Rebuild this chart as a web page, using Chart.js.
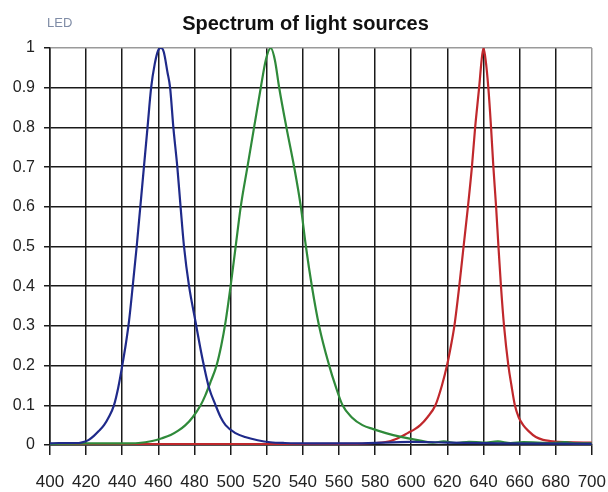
<!DOCTYPE html>
<html>
<head>
<meta charset="utf-8">
<script src="https://cdn.jsdelivr.net/npm/chart.js@4"></script>
<style>
  html, body { margin: 0; padding: 0; background: #fff; }
  #box { width: 608px; height: 492px; }
</style>
</head>
<body>
<div id="box"><canvas id="spectrum"></canvas></div>
<script>
// valori (lunghezza d'onda in nm, intensita relativa)
const blueNm  = [400, 405, 411, 416, 419, 421.5, 424.3, 427, 429.9, 432.5, 435.4, 437.8, 440, 442, 443.7, 445.8, 448, 450, 452, 454, 456, 458, 460, 461.5, 463, 465, 466.5, 468.3, 470.5, 472.3, 474.2, 477, 480.6, 483, 485.2, 488, 491.7, 494.5, 497.2, 502.7, 508, 515, 522, 530, 545, 570, 600, 620, 650, 700];
const blueRel = [0.004, 0.005, 0.005, 0.005, 0.008, 0.013, 0.023, 0.035, 0.05, 0.07, 0.1, 0.145, 0.2, 0.255, 0.31, 0.4, 0.5, 0.6, 0.7, 0.8, 0.9, 0.96, 0.995, 1.0, 0.99, 0.94, 0.9, 0.8, 0.7, 0.6, 0.5, 0.4, 0.31, 0.25, 0.2, 0.145, 0.1, 0.07, 0.05, 0.03, 0.02, 0.012, 0.007, 0.005, 0.004, 0.004, 0.008, 0.006, 0.004, 0.003];

const greenNm  = [400, 420, 440, 449, 456.6, 462, 466.8, 471, 475, 479, 483.4, 486, 489, 492.2, 494.8, 497.2, 500, 502.8, 505.6, 509.3, 513, 516.7, 519.5, 522.2, 524.5, 526.9, 530.9, 535.2, 538.9, 541.7, 545, 549, 554.6, 558, 562, 567, 573, 579, 586, 595, 605, 612, 618, 625, 632, 640, 648, 655, 662, 670, 678, 685, 692, 700];
const greenRel = [0.003, 0.004, 0.004, 0.005, 0.01, 0.017, 0.025, 0.036, 0.05, 0.07, 0.1, 0.125, 0.16, 0.2, 0.25, 0.31, 0.4, 0.5, 0.6, 0.7, 0.8, 0.9, 0.97, 1.0, 0.97, 0.9, 0.8, 0.7, 0.6, 0.5, 0.4, 0.3, 0.2, 0.15, 0.1, 0.07, 0.05, 0.04, 0.03, 0.02, 0.011, 0.006, 0.009, 0.005, 0.008, 0.006, 0.009, 0.005, 0.007, 0.006, 0.005, 0.007, 0.004, 0.004];

const redNm  = [400, 460, 520, 570, 580, 588.6, 594, 598, 602, 605, 609, 613.4, 617, 619.8, 622, 623.9, 626.6, 629, 631.4, 633.6, 635.4, 637.6, 639, 640, 641.2, 642.7, 644.2, 645.5, 647, 648.3, 649.7, 651.4, 653.8, 655.5, 657.4, 659.5, 662, 665, 669, 673, 677, 685, 700];
const redRel = [0.002, 0.002, 0.002, 0.003, 0.005, 0.01, 0.02, 0.03, 0.04, 0.05, 0.07, 0.1, 0.15, 0.2, 0.25, 0.3, 0.4, 0.5, 0.6, 0.7, 0.8, 0.9, 0.97, 1.0, 0.97, 0.9, 0.8, 0.7, 0.6, 0.5, 0.4, 0.3, 0.2, 0.15, 0.1, 0.07, 0.05, 0.035, 0.02, 0.013, 0.01, 0.007, 0.006];

const xRange = [400, 700];
const xStep = 20;
const yRange = [0, 1];
const yStep = 0.1;

const titolo = 'Spectrum of light sources';
const etichetta = 'LED';

const sans = '"Liberation Sans", Arial, sans-serif';
const gridCol = '#1a1a1a';

function punti(nm, rel) {
  return nm.map((x, i) => ({ x: x, y: rel[i] }));
}

function serie(nm, rel, colore) {
  return {
    data: punti(nm, rel),
    borderColor: colore,
    borderWidth: 2.2,
    pointRadius: 0,
    cubicInterpolationMode: 'monotone',
    fill: false
  };
}

// titolo e scritta "LED" sopra il grafico
const intestazione = {
  id: 'intestazione',
  afterDraw(chart) {
    const c = chart.ctx;
    c.save();
    c.textBaseline = 'alphabetic';
    c.font = '13px ' + sans;
    c.fillStyle = '#7f8ca6';
    c.textAlign = 'left';
    c.fillText(etichetta, 47, 27);
    c.font = 'bold 20px ' + sans;
    c.fillStyle = '#111';
    c.textAlign = 'center';
    c.fillText(titolo, 305.5, 29.5);
    c.restore();
  }
};

const ctx = document.getElementById('spectrum').getContext('2d');
new Chart(ctx, {
  type: 'line',
  data: {
    datasets: [
      serie(blueNm, blueRel, '#1f2a8a'),
      serie(greenNm, greenRel, '#2f8a3a'),
      serie(redNm, redRel, '#c0282c')
    ]
  },
  options: {
    responsive: true,
    maintainAspectRatio: false,
    animation: false,
    layout: { padding: { top: 48, right: 16 } },
    plugins: {
      legend: { display: false },
      tooltip: { enabled: false },
      title: { display: false }
    },
    scales: {
      x: {
        type: 'linear',
        min: xRange[0],
        max: xRange[1],
        afterFit: (s) => { s.height = 47; },
        ticks: {
          stepSize: xStep,
          color: '#222',
          padding: 2,
          maxRotation: 0,
          autoSkip: false,
          font: { family: sans, size: 17, lineHeight: 2.94 }
        },
        grid: {
          color: (c) => (c.tick && c.tick.value === xRange[1]) ? '#9a9a9a' : gridCol,
          tickColor: gridCol,
          lineWidth: 1.5,
          tickLength: 10
        },
        border: { color: gridCol, width: 1.5 }
      },
      y: {
        min: yRange[0],
        max: yRange[1],
        afterFit: (s) => { s.width = 50; },
        ticks: {
          stepSize: yStep,
          color: '#222',
          padding: 9,
          font: { family: sans, size: 16 },
          callback: (v) => String(Math.round(v * 10) / 10)
        },
        grid: {
          color: (c) => (c.tick && c.tick.value === yRange[1]) ? '#9a9a9a' : gridCol,
          tickColor: gridCol,
          lineWidth: 1.5,
          tickLength: 6
        },
        border: { color: gridCol, width: 1.5 }
      }
    }
  },
  plugins: [intestazione]
});
</script>
</body>
</html>
